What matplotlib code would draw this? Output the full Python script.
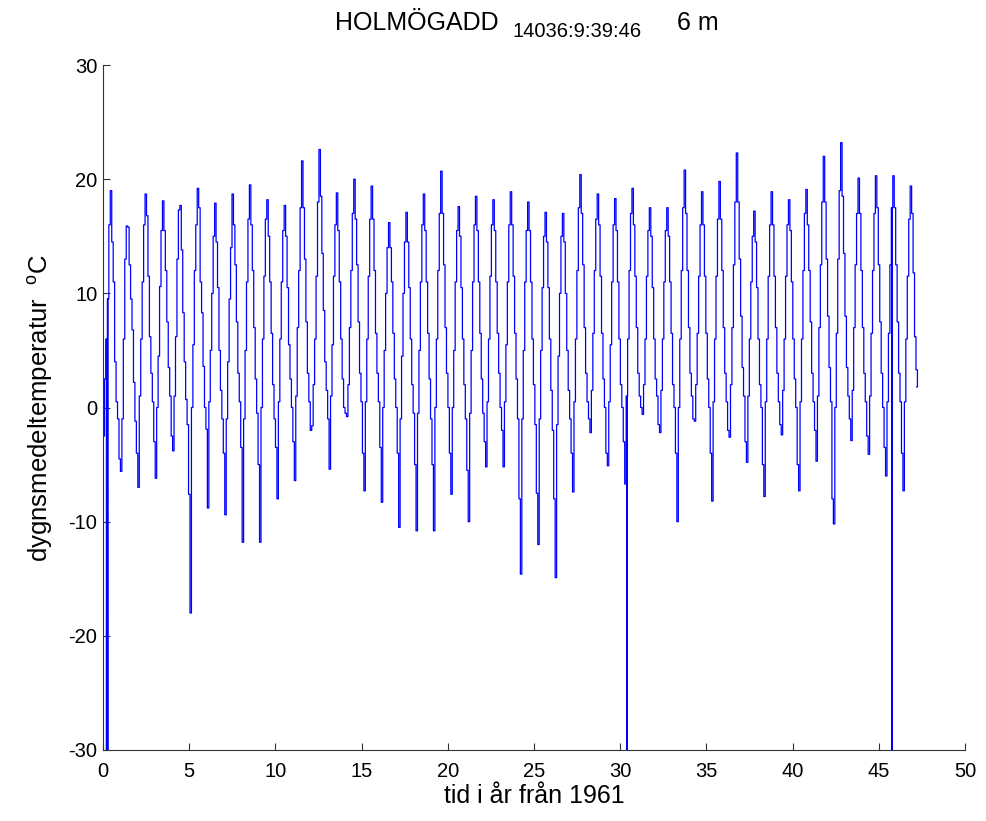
import numpy as np
import matplotlib
matplotlib.use("Agg")
import matplotlib.pyplot as plt

plt.rcParams['font.family'] = ['Liberation Sans', 'DejaVu Sans']
plt.rcParams['axes.unicode_minus'] = False
plt.rcParams['mathtext.fontset'] = 'custom'
plt.rcParams['mathtext.rm'] = 'Liberation Sans'

# Seasonal-cycle length on the x axis (x axis unit is "år", cycles drift slightly)
cycle_len = 1.0087
end_time = 47.2

# Monthly levels per seasonal cycle (starting at the spring minimum), °C
year_levels = [
    [-2.5, 2.5, 6.0, 9.5, 16.0, 19.0, 14.5, 11.0, 4.0, 0.5, -1.0, -4.5],
    [-5.6, -1.0, 6.0, 13.0, 15.9, 15.8, 12.5, 9.5, 6.8, 2.2, -1.2, -4.0],
    [-7.0, 1.0, 6.0, 11.0, 16.0, 18.7, 16.8, 11.5, 6.2, 3.0, 0.5, -3.0],
    [-6.2, 0.0, 4.5, 10.6, 15.5, 18.1, 15.5, 12.0, 7.5, 3.5, 1.0, -2.5],
    [-3.8, 1.0, 6.2, 13.0, 17.3, 17.7, 13.8, 8.3, 4.0, 0.7, -1.5, -7.6],
    [-18.0, 0.0, 5.5, 12.0, 16.0, 19.2, 17.5, 11.0, 8.3, 3.6, 0.0, -1.9],
    [-8.8, 0.5, 5.0, 10.0, 15.0, 17.9, 14.5, 10.5, 5.0, 1.5, -1.0, -4.0],
    [-9.4, -1.0, 4.0, 9.5, 14.0, 18.7, 16.0, 12.5, 7.5, 3.0, 0.5, -3.5],
    [-11.8, -1.0, 5.0, 11.0, 16.5, 19.5, 16.0, 12.0, 7.0, 2.5, -0.5, -5.0],
    [-11.8, 0.0, 6.0, 11.5, 16.5, 18.2, 15.0, 11.0, 6.5, 2.0, -1.0, -3.5],
    [-8.0, 0.5, 6.0, 11.0, 15.5, 17.7, 15.0, 10.5, 5.5, 2.5, 0.0, -3.0],
    [-6.4, 1.0, 7.0, 12.0, 17.5, 21.6, 17.5, 13.0, 7.5, 3.0, 0.5, -2.0],
    [-1.6, 2.0, 6.0, 11.5, 18.0, 22.6, 18.5, 13.5, 8.5, 4.0, 1.5, -1.0],
    [-5.4, 1.0, 5.5, 11.5, 16.0, 18.8, 15.5, 11.0, 6.0, 2.5, 0.0, -0.5],
    [-0.8, 2.0, 7.0, 12.0, 17.0, 20.0, 16.5, 12.5, 7.5, 3.0, 0.5, -4.0],
    [-7.3, 0.5, 6.0, 11.5, 16.5, 19.4, 16.5, 12.0, 6.5, 3.0, 0.5, -3.5],
    [-8.3, 0.0, 5.0, 10.0, 14.0, 16.2, 14.0, 11.0, 6.5, 2.5, 0.0, -4.0],
    [-10.5, -1.0, 4.5, 10.0, 14.5, 17.1, 14.5, 10.5, 6.0, 2.0, -0.5, -5.0],
    [-10.8, -0.5, 5.0, 11.0, 16.0, 18.7, 15.5, 11.0, 6.5, 2.5, -1.0, -5.0],
    [-10.8, 0.0, 6.0, 12.0, 17.0, 20.7, 17.0, 12.5, 7.0, 3.0, 0.0, -4.0],
    [-7.6, 0.0, 5.0, 11.0, 15.5, 17.6, 15.0, 10.5, 6.0, 2.0, -1.0, -5.5],
    [-10.0, -0.5, 5.0, 11.0, 16.0, 18.5, 15.5, 11.0, 6.5, 2.5, -0.5, -3.0],
    [-5.2, 0.5, 6.0, 11.5, 16.0, 18.2, 15.5, 11.0, 6.5, 3.0, 0.0, -2.0],
    [-5.2, 0.5, 5.5, 11.0, 16.0, 18.9, 16.0, 11.5, 6.5, 2.5, -1.0, -8.0],
    [-14.6, -1.0, 5.0, 11.0, 15.5, 18.0, 15.5, 11.0, 6.0, 2.0, -1.5, -7.5],
    [-12.0, -1.0, 5.0, 10.5, 15.0, 17.1, 14.5, 10.5, 6.0, 1.5, -2.0, -8.0],
    [-14.9, -1.5, 4.5, 10.0, 15.0, 17.0, 14.5, 10.0, 5.0, 1.5, -1.0, -4.0],
    [-7.4, 0.5, 6.0, 12.0, 17.5, 20.4, 17.0, 12.5, 7.0, 3.0, 0.5, -1.0],
    [-2.2, 1.5, 6.5, 12.0, 16.5, 18.7, 16.0, 11.5, 6.5, 2.5, 0.0, -4.0],
    [-5.1, 0.5, 5.5, 11.0, 16.0, 18.3, 15.5, 11.0, 6.0, 2.0, 0.0, -3.0],
    [-6.7, 1.0, 6.0, 12.0, 17.0, 19.2, 16.0, 11.5, 7.0, 3.0, 1.0, 0.0],
    [-0.6, 2.0, 6.0, 11.5, 15.5, 17.5, 15.0, 10.5, 6.0, 2.5, 1.0, -1.5],
    [-2.2, 1.5, 6.0, 11.0, 15.5, 17.5, 15.0, 11.0, 6.5, 2.0, 0.0, -4.0],
    [-10.0, 0.0, 6.0, 12.0, 17.5, 20.8, 17.0, 12.0, 7.0, 3.0, 1.0, -1.0],
    [-1.2, 2.0, 6.5, 11.5, 16.0, 18.9, 16.0, 11.5, 6.5, 2.5, 0.0, -4.0],
    [-8.2, 0.5, 6.0, 11.5, 16.5, 19.8, 16.5, 12.0, 7.0, 3.0, 0.5, -2.0],
    [-2.6, 2.0, 7.0, 12.5, 18.0, 22.3, 18.0, 13.0, 8.0, 3.5, 1.0, -3.0],
    [-4.8, 1.0, 6.0, 11.0, 15.0, 17.2, 14.5, 10.5, 6.0, 2.0, 0.0, -5.0],
    [-7.8, 0.5, 6.0, 11.5, 16.0, 18.9, 16.0, 11.5, 7.0, 3.0, 0.5, -1.5],
    [-2.4, 1.5, 6.0, 11.5, 16.0, 18.2, 15.5, 11.0, 6.0, 2.5, 0.0, -5.0],
    [-7.3, 0.5, 6.0, 12.0, 17.0, 19.1, 16.0, 12.0, 7.5, 3.0, 0.5, -2.0],
    [-4.7, 1.0, 7.0, 12.5, 18.0, 22.0, 18.0, 13.0, 8.0, 3.5, 0.5, -8.0],
    [-10.2, 0.0, 6.5, 13.0, 19.0, 23.2, 18.5, 13.5, 8.0, 3.5, 1.0, -1.0],
    [-2.9, 1.5, 7.0, 12.5, 17.0, 20.1, 17.0, 12.0, 7.0, 3.0, 0.5, -2.5],
    [-4.1, 1.0, 6.5, 12.0, 17.0, 20.3, 17.5, 12.5, 7.5, 3.0, 0.0, -3.5],
    [-6.0, 0.5, 6.5, 12.5, 17.5, 20.3, 17.5, 12.5, 7.5, 3.0, 0.5, -4.0],
    [-7.3, 0.5, 6.0, 11.5, 16.5, 19.4, 17.0, 11.8, 6.2, 3.3, 1.8],
]

# Isolated erroneous values (-30 °C) : (x position in years, value)
spike_times = [0.20, 0.27, 30.40, 45.77]
spike_vals = [-30.0, -30.0, -30.0, -30.0]

# Build series
t_list, v_list = [], []
for n, levels in enumerate(year_levels):
    for m, val in enumerate(levels):
        t_list.append((n + m / 12.0) * cycle_len)
        v_list.append(val)
t = np.array(t_list)
v = np.array(v_list)
t = np.append(t, end_time)
v = np.append(v, v[-1])

# insert spikes (one-day excursions)
for st, sv in zip(spike_times, spike_vals):
    idx = np.searchsorted(t, st)
    cur = v[idx - 1]
    t = np.insert(t, idx, [st, st + 0.004])
    v = np.insert(v, idx, [sv, cur])

fig = plt.figure(figsize=(9.87, 8.21), dpi=100)
ax = fig.add_axes([0.1044, 0.0865, 0.8733, 0.8343])
ax.plot(t, v, color='#0000ff', lw=0.9, drawstyle='steps-post')

ax.set_xlim(0, 50)
ax.set_ylim(-30, 30)
ax.set_xticks(np.arange(0, 51, 5))
ax.set_yticks(np.arange(-30, 31, 10))
for s in ['top', 'right']:
    ax.spines[s].set_visible(False)
for s in ['left', 'bottom']:
    ax.spines[s].set_color('#333333')
    ax.spines[s].set_linewidth(0.8)
ax.tick_params(direction='in', length=5, width=0.8, labelsize=14.5, colors='#333333',
               labelcolor='black')
ax.tick_params(axis='x', pad=9)
ax.tick_params(axis='y', pad=4)

ax.set_xlabel('tid i år från 1961', fontsize=18, labelpad=2)
ax.set_ylabel(r'dygnsmedeltemperatur  $^{\rm o}$C', fontsize=18.5, labelpad=10)

fig.text(335 / 987, 1 - 30 / 821, 'HOLMÖGADD', fontsize=18, ha='left', va='baseline')
fig.text(513 / 987, 1 - 37 / 821, '14036:9:39:46', fontsize=14.5, ha='left', va='baseline')
fig.text(677 / 987, 1 - 30 / 821, '6 m', fontsize=18, ha='left', va='baseline')

fig.savefig('out.png', dpi=100, facecolor='white')
